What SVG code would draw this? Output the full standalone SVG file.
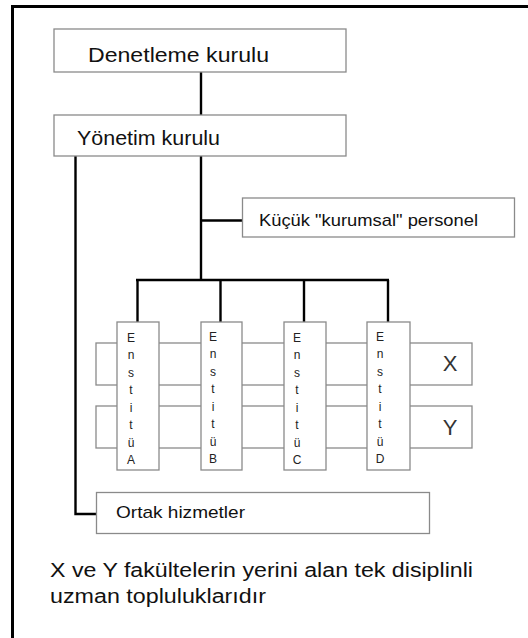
<svg xmlns="http://www.w3.org/2000/svg" width="528" height="638" viewBox="0 0 528 638">
<style>
.box{fill:#fff;stroke:#8a8a8a;stroke-width:1.3}
.con{fill:none;stroke:#000;stroke-width:2.4}
.t{font-family:"Liberation Sans",Arial,sans-serif;fill:#111}
.big{font-size:20px}
.mid{font-size:17px}
.let{font-family:"Liberation Sans",Arial,sans-serif;font-size:12px;fill:#222;text-anchor:middle}
.xy{font-family:"Liberation Sans",Arial,sans-serif;font-size:22px;fill:#333;text-anchor:middle}
</style>
<rect width="528" height="638" fill="#fff"/>
<g id="frame" fill="none" stroke="#000" stroke-width="3">
<line x1="11" y1="6.5" x2="528" y2="6.5"/>
<line x1="12.5" y1="5" x2="12.5" y2="638"/>
</g>
<g id="connectors">
<line class="con" x1="201" y1="72" x2="201" y2="115"/>
<line class="con" x1="201" y1="156" x2="201" y2="280"/>
<line class="con" x1="201" y1="220.5" x2="242" y2="220.5"/>
<polyline class="con" points="75.5,156 75.5,514 97,514"/>
<line class="con" x1="136" y1="280" x2="389" y2="280"/>
<line class="con" x1="137.5" y1="280" x2="137.5" y2="322"/>
<line class="con" x1="220.5" y1="280" x2="220.5" y2="322"/>
<line class="con" x1="304" y1="280" x2="304" y2="322"/>
<line class="con" x1="388" y1="280" x2="388" y2="322"/>
</g>
<g id="denetleme">
<rect class="box" x="54" y="29" width="292" height="43"/>
<text class="t big" x="88" y="62" textLength="181" lengthAdjust="spacingAndGlyphs">Denetleme kurulu</text>
</g>
<g id="yonetim">
<rect class="box" x="54" y="115" width="292" height="41"/>
<text class="t big" x="77" y="145" textLength="143" lengthAdjust="spacingAndGlyphs">Yönetim kurulu</text>
</g>
<g id="kucuk">
<rect class="box" x="242.5" y="198" width="272" height="39"/>
<text class="t mid" x="259" y="226" textLength="219" lengthAdjust="spacingAndGlyphs">Küçük "kurumsal" personel</text>
</g>
<g id="bandX">
<rect class="box" x="96" y="343" width="376" height="42"/>
<text class="xy" x="450" y="371">X</text>
</g>
<g id="bandY">
<rect class="box" x="96" y="406" width="376" height="42"/>
<text class="xy" x="450" y="435">Y</text>
</g>
<g id="enstituA">
<rect class="box" x="117" y="322" width="42" height="148"/>
<text class="let"><tspan x="131" y="342">E</tspan><tspan x="131" y="359.4">n</tspan><tspan x="131" y="376.9">s</tspan><tspan x="131" y="394.3">t</tspan><tspan x="131" y="411.7">i</tspan><tspan x="131" y="429.1">t</tspan><tspan x="131" y="446.6">ü</tspan><tspan x="131" y="464">A</tspan></text>
</g>
<g id="enstituB">
<rect class="box" x="201" y="322" width="41" height="148"/>
<text class="let"><tspan x="213" y="341">E</tspan><tspan x="213" y="358.4">n</tspan><tspan x="213" y="375.9">s</tspan><tspan x="213" y="393.3">t</tspan><tspan x="213" y="410.7">i</tspan><tspan x="213" y="428.1">t</tspan><tspan x="213" y="445.6">ü</tspan><tspan x="213" y="463">B</tspan></text>
</g>
<g id="enstituC">
<rect class="box" x="284" y="322" width="42" height="148"/>
<text class="let"><tspan x="297" y="342">E</tspan><tspan x="297" y="359.4">n</tspan><tspan x="297" y="376.9">s</tspan><tspan x="297" y="394.3">t</tspan><tspan x="297" y="411.7">i</tspan><tspan x="297" y="429.1">t</tspan><tspan x="297" y="446.6">ü</tspan><tspan x="297" y="464">C</tspan></text>
</g>
<g id="enstituD">
<rect class="box" x="367" y="322" width="43" height="148"/>
<text class="let"><tspan x="380" y="341">E</tspan><tspan x="380" y="358.4">n</tspan><tspan x="380" y="375.9">s</tspan><tspan x="380" y="393.3">t</tspan><tspan x="380" y="410.7">i</tspan><tspan x="380" y="428.1">t</tspan><tspan x="380" y="445.6">ü</tspan><tspan x="380" y="463">D</tspan></text>
</g>
<g id="ortak">
<rect class="box" x="96.5" y="492.5" width="333" height="41"/>
<text class="t mid" x="116" y="518" textLength="129" lengthAdjust="spacingAndGlyphs">Ortak hizmetler</text>
</g>
<g id="note">
<text class="t big" x="50" y="577" textLength="423" lengthAdjust="spacingAndGlyphs">X ve Y fakültelerin yerini alan tek disiplinli</text>
<text class="t big" x="50" y="603" textLength="216" lengthAdjust="spacingAndGlyphs">uzman topluluklarıdır</text>
</g>
</svg>
